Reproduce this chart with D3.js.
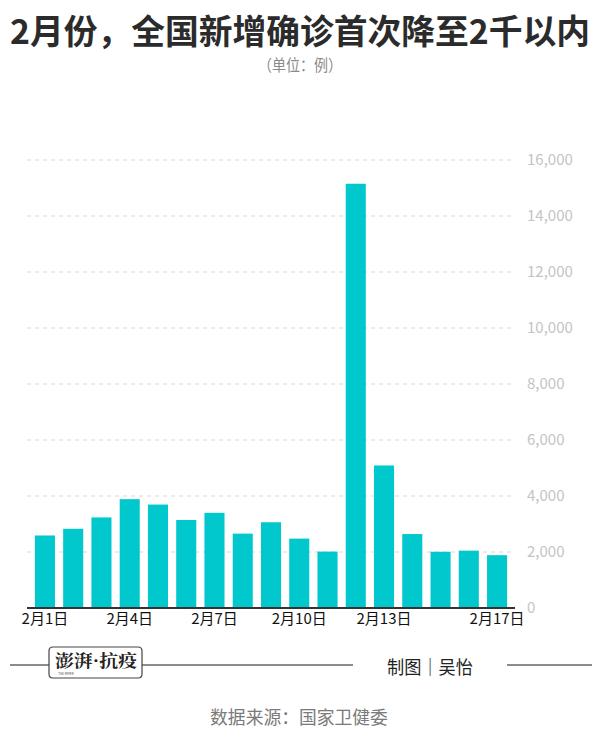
<!DOCTYPE html>
<html><head><meta charset="utf-8">
<script src="https://cdn.jsdelivr.net/npm/d3@7"></script>
<style>body{margin:0;background:#fff}svg{display:block}</style>
</head><body>
<script>
const categories = ["2月1日","2月2日","2月3日","2月4日","2月5日","2月6日","2月7日","2月8日","2月9日","2月10日","2月11日","2月12日","2月13日","2月14日","2月15日","2月16日","2月17日"];
const values = [2590,2829,3235,3887,3694,3143,3399,2656,3062,2478,2015,15152,5090,2641,2009,2048,1886];
const shownLabels = ["2月1日","2月4日","2月7日","2月10日","2月13日","2月17日"];
const yTicks = [0,2000,4000,6000,8000,10000,12000,14000,16000];

const W=600,H=743;
const font='"Noto Sans CJK SC","Noto Sans",sans-serif';
const svg=d3.select("body").append("svg").attr("width",W).attr("height",H).style("font-family",font);

svg.append("text").attr("x",300).attr("y",44).attr("text-anchor","middle")
  .attr("font-size",34).attr("font-weight",700).attr("fill","#2b2b2b")
  .attr("textLength",580).attr("lengthAdjust","spacingAndGlyphs")
  .text("2月份，全国新增确诊首次降至2千以内");
svg.append("text").attr("x",300).attr("y",71).attr("text-anchor","middle")
  .attr("font-size",16).attr("fill","#8a8a8a")
  .attr("textLength",84).attr("lengthAdjust","spacingAndGlyphs").text("（单位：例）");

const x=d3.scaleBand().domain(categories).range([27,515]).paddingInner(0.29).paddingOuter(0.28);
const y=d3.scaleLinear().domain([0,16000]).range([608,160]);

// grid
svg.append("g").selectAll("line").data(yTicks.filter(d=>d>0)).join("line")
  .attr("x1",27).attr("x2",513).attr("y1",d=>y(d)).attr("y2",d=>y(d))
  .attr("stroke","#d6d6d6").attr("stroke-width",1).attr("stroke-dasharray","4,4");

// y axis labels
const yAxis=d3.axisRight(y).tickValues(yTicks).tickSize(0).tickPadding(0).tickFormat(d3.format(","));
const ya=svg.append("g").attr("transform","translate(527,0)").call(yAxis);
ya.select(".domain").remove();
ya.selectAll("text").attr("font-size",15).attr("fill","#c4c4c4").style("font-family",font);

// bars
svg.selectAll("rect.bar").data(values).join("rect")
  .attr("x",(d,i)=>x(categories[i])).attr("width",x.bandwidth())
  .attr("y",d=>y(d)).attr("height",d=>y(0)-y(d)).attr("fill","#00c8cc");

// x axis
const xAxis=d3.axisBottom(x).tickValues(shownLabels).tickSize(0).tickPadding(5);
const xa=svg.append("g").attr("transform","translate(0,608)").call(xAxis);
xa.select(".domain").attr("stroke","#333").attr("stroke-width",2).attr("d","M27,0H515");
xa.selectAll("text").attr("font-size",15).attr("fill","#111").style("font-family",font);

// footer lines
const fy=665;
[[10,49],[142,353],[507,592]].forEach(([a,b])=>{
  svg.append("line").attr("x1",a).attr("x2",b).attr("y1",fy).attr("y2",fy).attr("stroke","#666").attr("stroke-width",1.5);
});
// logo box
svg.append("path").attr("d","M53,647 H138 Q142,647 142,651 V674 Q142,678 138,678 H53 Q49,678 49,674 V651 Q49,647 53,647 Z")
  .attr("fill","none").attr("stroke","#444").attr("stroke-width",1.2);
svg.append("text").attr("x",96).attr("y",667).attr("text-anchor","middle").attr("font-size",17)
  .attr("font-family",'"Noto Serif CJK SC","Noto Sans CJK SC",serif').attr("font-weight",700).attr("fill","#222")
  .attr("textLength",82).attr("lengthAdjust","spacingAndGlyphs").text("澎湃·抗疫");
svg.append("text").attr("x",66).attr("y",675).attr("text-anchor","middle").attr("font-size",3).attr("fill","#444").text("THE PAPER");

svg.append("text").attr("x",430).attr("y",673.5).attr("text-anchor","middle").attr("font-size",18).attr("fill","#222")
  .attr("textLength",86).attr("lengthAdjust","spacingAndGlyphs").text("制图｜吴怡");
svg.append("text").attr("x",299).attr("y",724).attr("text-anchor","middle").attr("font-size",17.8).attr("fill","#7a7a7a").text("数据来源：国家卫健委");
</script>
</body></html>
